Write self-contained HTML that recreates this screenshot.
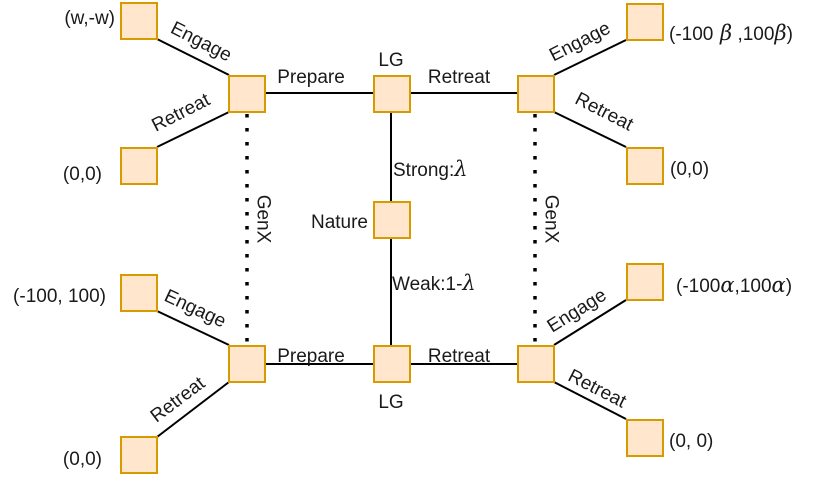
<!DOCTYPE html>
<html><head><meta charset="utf-8"><style>
html,body{margin:0;padding:0;background:#fff;}
svg{display:block;}
text{font-family:"Liberation Sans",Arial,sans-serif;font-size:19px;fill:#1a1a1a;}
.b{fill:#FFE6CC;stroke:#D79B00;stroke-width:2;}
.l{stroke:#000;stroke-width:2;fill:none;}
.d{stroke:#000;stroke-width:3.5;stroke-dasharray:3.5 10.5;fill:none;}
.g{font-family:"DejaVu Serif",serif;font-style:italic;}
</style></head><body>
<svg width="816" height="479" viewBox="0 0 816 479" xmlns="http://www.w3.org/2000/svg">
<!-- connectors -->
<line class="l" x1="157" y1="39" x2="229" y2="75"/>
<line class="l" x1="229" y1="112" x2="157" y2="147"/>
<line class="l" x1="265" y1="93" x2="373" y2="93"/>
<line class="l" x1="410" y1="93" x2="517" y2="93"/>
<line class="l" x1="554" y1="75" x2="626" y2="40"/>
<line class="l" x1="554" y1="112" x2="626" y2="147"/>
<line class="l" x1="391" y1="112" x2="391" y2="201"/>
<line class="l" x1="391" y1="238" x2="391" y2="346"/>
<line class="l" x1="157" y1="311" x2="229" y2="345"/>
<line class="l" x1="229" y1="382" x2="157" y2="437"/>
<line class="l" x1="265" y1="364" x2="373" y2="364"/>
<line class="l" x1="410" y1="364" x2="517" y2="364"/>
<line class="l" x1="554" y1="345" x2="626" y2="300"/>
<line class="l" x1="554" y1="382" x2="626" y2="419"/>
<line class="d" x1="247" y1="114" x2="247" y2="345"/>
<line class="d" x1="535" y1="114" x2="535" y2="345"/>
<!-- boxes -->
<rect class="b" x="121" y="3" width="36" height="36"/>
<rect class="b" x="229" y="76" width="36" height="36"/>
<rect class="b" x="121" y="148" width="36" height="36"/>
<rect class="b" x="374" y="76" width="36" height="36"/>
<rect class="b" x="518" y="76" width="36" height="36"/>
<rect class="b" x="627" y="4" width="36" height="36"/>
<rect class="b" x="627" y="148" width="36" height="36"/>
<rect class="b" x="374" y="202" width="36" height="36"/>
<rect class="b" x="121" y="275" width="36" height="36"/>
<rect class="b" x="229" y="346" width="36" height="36"/>
<rect class="b" x="121" y="437" width="36" height="36"/>
<rect class="b" x="374" y="346" width="36" height="36"/>
<rect class="b" x="518" y="346" width="36" height="36"/>
<rect class="b" x="627" y="264" width="36" height="36"/>
<rect class="b" x="627" y="420" width="36" height="36"/>
<!-- edge labels -->
<text x="311" y="83" text-anchor="middle">Prepare</text>
<text x="459" y="83" text-anchor="middle">Retreat</text>
<text x="391" y="66" text-anchor="middle">LG</text>
<text x="311" y="362" text-anchor="middle">Prepare</text>
<text x="459" y="362" text-anchor="middle">Retreat</text>
<text x="391" y="408" text-anchor="middle">LG</text>
<text x="368" y="228" text-anchor="end">Nature</text>
<text x="393" y="176">Strong:<tspan class="g" font-size="21">λ</tspan></text>
<text x="392" y="290">Weak:1-<tspan class="g" font-size="21">λ</tspan></text>
<text transform="translate(263,219) rotate(90)" text-anchor="middle" dominant-baseline="central">GenX</text>
<text transform="translate(551,219) rotate(90)" text-anchor="middle" dominant-baseline="central">GenX</text>
<text transform="translate(201,42) rotate(27)" text-anchor="middle" dominant-baseline="central">Engage</text>
<text transform="translate(181,113) rotate(-27)" text-anchor="middle" dominant-baseline="central">Retreat</text>
<text transform="translate(580,42) rotate(-27)" text-anchor="middle" dominant-baseline="central">Engage</text>
<text transform="translate(604,112) rotate(27)" text-anchor="middle" dominant-baseline="central">Retreat</text>
<text transform="translate(195,309) rotate(25)" text-anchor="middle" dominant-baseline="central">Engage</text>
<text transform="translate(178,400) rotate(-37)" text-anchor="middle" dominant-baseline="central">Retreat</text>
<text transform="translate(577,311) rotate(-32)" text-anchor="middle" dominant-baseline="central">Engage</text>
<text transform="translate(597,389) rotate(27)" text-anchor="middle" dominant-baseline="central">Retreat</text>
<!-- payoffs -->
<text x="115" y="24" text-anchor="end">(w,-w)</text>
<text x="102" y="180" text-anchor="end">(0,0)</text>
<text x="106" y="302" text-anchor="end">(-100, 100)</text>
<text x="102" y="465" text-anchor="end">(0,0)</text>
<text x="669" y="40">(-100<tspan class="g" font-size="21"> β</tspan> ,100<tspan class="g" font-size="21">β</tspan>)</text>
<text x="670" y="175">(0,0)</text>
<text x="676" y="292">(-100<tspan class="g" font-size="21">α</tspan>,100<tspan class="g" font-size="21">α</tspan>)</text>
<text x="669" y="447">(0, 0)</text>
</svg>
</body></html>
